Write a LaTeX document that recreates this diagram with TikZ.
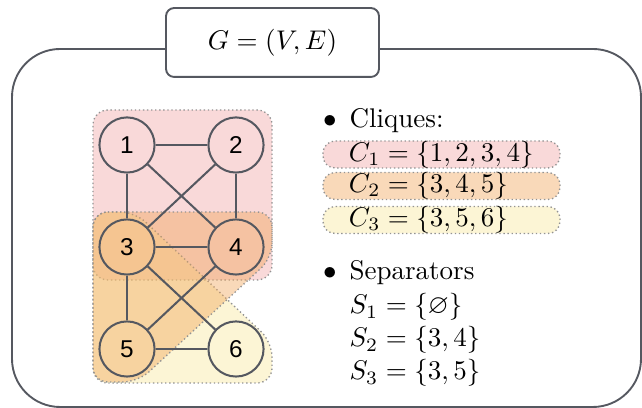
\documentclass[tikz,border=0pt]{standalone}
\usepackage{amsmath}
\usepackage{amssymb}
\usepackage{fontspec}
\newfontfamily\numfont{Liberation Sans}
\usepackage{tikz}
\usetikzlibrary{positioning,calc}

\definecolor{lncol}{RGB}{85,88,96}
\definecolor{cliqueA}{RGB}{240,160,160}
\definecolor{cliqueB}{RGB}{240,160,80}
\definecolor{cliqueC}{RGB}{248,230,150}

\begin{document}
\begin{tikzpicture}[
  x=0.37pt, y=0.37pt,
  vert/.style={circle, draw=lncol, line width=0.75pt, minimum size=20.4pt, inner sep=0pt, font=\numfont\fontsize{9}{11}\selectfont},
  edge/.style={draw=lncol, line width=0.75pt},
  region/.style={draw=gray!85, densely dotted, line width=0.5pt, fill opacity=0.4, rounded corners=5.5pt},
  frame/.style={draw=lncol, line width=0.7pt},
  cbox/.style={rectangle, draw=gray!85, densely dotted, line width=0.5pt, rounded corners=4.5pt, minimum height=9.25pt, text width=68.5pt, inner xsep=9.6pt, inner ysep=0pt, align=left},
  txt/.style={anchor=base west, inner sep=0pt}
]
  \useasboundingbox (0,0) rectangle (642,408);

  \draw[frame, rounded corners=17.8pt] (12,1) rectangle (641,359);
  \node[frame, fill=white, rounded corners=3pt, minimum width=78.8pt, minimum height=25.5pt] (title) at (272.5,365.5) {$G = (V, E)$};

  \draw[region, fill=cliqueA] (93,128) rectangle (272,298);
  \draw[region, fill=cliqueC] (93,196) -- (135,196) -- (272,66) -- (272,25) -- (93,25) -- cycle;
  \draw[region, fill=cliqueB] (93,196) -- (272,196) -- (272,150) -- (138,26) -- (93,26) -- cycle;

  \node[vert] (v1) at (127,263) {1};
  \node[vert] (v2) at (236,263) {2};
  \node[vert] (v3) at (127,161) {3};
  \node[vert] (v4) at (236,161) {4};
  \node[vert] (v5) at (127,59) {5};
  \node[vert] (v6) at (236,59) {6};

  \foreach \a/\b in {1/2,1/3,1/4,2/3,2/4,3/4,3/5,3/6,4/5,5/6}
    \draw[edge] (v\a) -- (v\b);

  \node[anchor=base] (b1) at (330,280) {$\bullet$};
  \node[txt] (cliq) at (349,280) {Cliques:};
  \node[cbox, fill=cliqueA!40] (c1) at (441.5,253.5) {$C_1 = \{1,2,3,4\}$};
  \node[cbox, fill=cliqueB!40] (c2) at (441.5,222) {$C_2 = \{3,4,5\}$};
  \node[cbox, fill=cliqueC!40] (c3) at (441.5,188) {$C_3 = \{3,5,6\}$};

  \node[anchor=base] (b2) at (330,128) {$\bullet$};
  \node[txt] (sep) at (349,128) {Separators};
  \node[txt] (s1) at (349,94) {$S_1 = \{\varnothing\}$};
  \node[txt] (s2) at (349,61) {$S_2 = \{3,4\}$};
  \node[txt] (s3) at (349,28) {$S_3 = \{3,5\}$};
\end{tikzpicture}
\end{document}
